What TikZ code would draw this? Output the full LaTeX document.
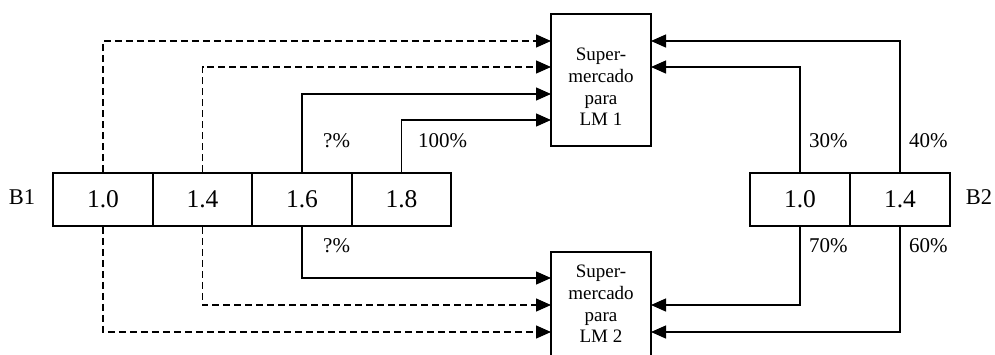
\documentclass[tikz,border=0pt]{standalone}
\usepackage{fontspec}
\setmainfont{Liberation Serif}
\usetikzlibrary{arrows.meta}
\begin{document}
\begin{tikzpicture}[x=1pt,y=-1pt,
  cell/.style={draw,line width=1.6pt,minimum width=99.5pt,minimum height=53pt,inner sep=0pt,font=\fontsize{25.5}{30}\selectfont},
  smbox/.style={draw,line width=1.6pt,minimum width=100pt,inner sep=0pt},
  smtext/.style={align=center,inner sep=0pt,font=\fontsize{19}{21.7}\selectfont},
  pct/.style={anchor=west,inner sep=0pt,font=\fontsize{21}{25}\selectfont},
  blab/.style={inner sep=0pt,font=\fontsize{22.5}{27}\selectfont},
  conn/.style={line width=1.3pt,-{Triangle[length=15pt,width=13pt]}},
  dconn/.style={conn,dash pattern=on 7pt off 4pt}]
\useasboundingbox (0,0) rectangle (995,354);
% B1 cells
\node[cell] (b10) at (103,199.5) {1.0};
\node[cell] (b14) at (202.5,199.5) {1.4};
\node[cell] (b16) at (302,199.5) {1.6};
\node[cell] (b18) at (401.5,199.5) {1.8};
\node[blab] (lb1) at (22,197) {B1};
% B2 cells
\node[cell] (c10) at (800,199.5) {1.0};
\node[cell] (c14) at (900,199.5) {1.4};
\node[blab] (lb2) at (979,197) {B2};
% supermarkets
\node[smbox,minimum height=132pt] (sm1) at (601,80) {};
\node[smtext] (t1) at (601,87) {Super-\\mercado\\para\\LM 1};
\node[smbox,minimum height=132pt] (sm2) at (601,318) {};
\node[smtext] (t2) at (601,304) {Super-\\mercado\\para\\LM 2};
% entry points
\coordinate (s1a) at (551,41);
\coordinate (s1b) at (551,67);
\coordinate (s1c) at (551,94);
\coordinate (s1d) at (551,120);
\coordinate (s1e) at (651,41);
\coordinate (s1f) at (651,67);
\coordinate (s2a) at (551,278);
\coordinate (s2b) at (551,305);
\coordinate (s2c) at (551,332);
\coordinate (s2e) at (651,305);
\coordinate (s2f) at (651,332);
% B1 connectors
\draw[dconn] (b10.north) |- (s1a);
\draw[dconn] (b14.north) |- (s1b);
\draw[conn] (b16.north) |- (s1c);
\draw[conn] (b18.north) |- (s1d);
\draw[dconn] (b10.south) |- (s2c);
\draw[dconn] (b14.south) |- (s2b);
\draw[conn] (b16.south) |- (s2a);
% B2 connectors
\draw[conn] (c14.north) |- (s1e);
\draw[conn] (c10.north) |- (s1f);
\draw[conn] (c10.south) |- (s2e);
\draw[conn] (c14.south) |- (s2f);
% labels
\node[pct] (p1) at (323,141) {?\%};
\node[pct] (p2) at (418,141) {100\%};
\node[pct] (p3) at (323,246) {?\%};
\node[pct] (p4) at (809,141) {30\%};
\node[pct] (p5) at (909,141) {40\%};
\node[pct] (p6) at (809,246) {70\%};
\node[pct] (p7) at (909,246) {60\%};
\end{tikzpicture}
\end{document}
